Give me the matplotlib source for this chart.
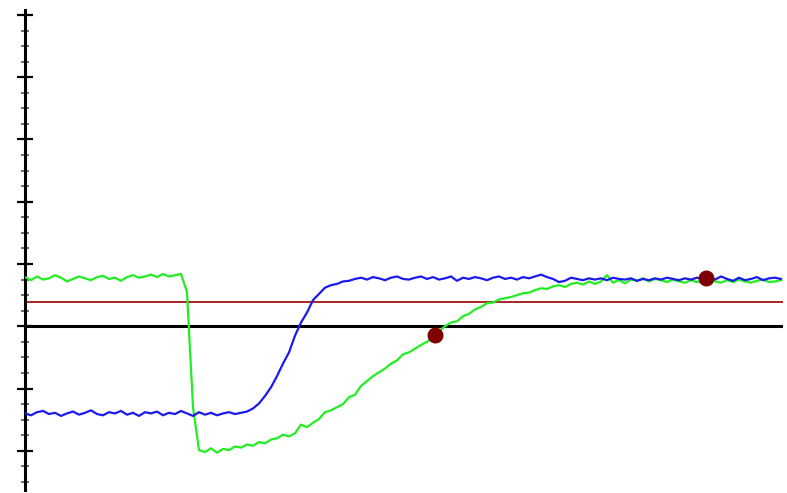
import numpy as np
import matplotlib.pyplot as plt
from matplotlib.ticker import MultipleLocator

# 数据 (每 6 个采样点一个值)
green = [0.79, 0.74, 0.80, 0.75, 0.77, 0.82, 0.78, 0.72, 0.76, 0.80,
         0.77, 0.74, 0.79, 0.81, 0.76, 0.78, 0.73, 0.79, 0.82, 0.78,
         0.80, 0.83, 0.79, 0.84, 0.80, 0.82, 0.84, 0.55, -1.30,
         -1.99, -2.02, -1.96, -2.03, -1.97, -1.99, -1.93, -1.95, -1.90, -1.92,
         -1.86, -1.88, -1.82, -1.80, -1.74, -1.77, -1.72, -1.58, -1.62, -1.55,
         -1.49, -1.38, -1.35, -1.30, -1.25, -1.14, -1.10, -0.96, -0.88, -0.80,
         -0.74, -0.68, -0.60, -0.55, -0.45, -0.42, -0.36, -0.30, -0.25, -0.18,
         -0.08, 0.00, 0.06, 0.08, 0.16, 0.20, 0.27, 0.31, 0.37, 0.38,
         0.43, 0.45, 0.47, 0.50, 0.53, 0.54, 0.58, 0.61, 0.60, 0.64,
         0.66, 0.63, 0.68, 0.70, 0.67, 0.72, 0.68, 0.72, 0.82, 0.70,
         0.74, 0.69, 0.75, 0.73, 0.77, 0.72, 0.76, 0.74,
         0.71, 0.75, 0.72, 0.70, 0.74, 0.71, 0.73, 0.76, 0.72, 0.70,
         0.74, 0.71, 0.75, 0.72, 0.70, 0.73, 0.75, 0.71, 0.72, 0.74]

blue = [-1.40, -1.43, -1.38, -1.36, -1.41, -1.39, -1.44, -1.40, -1.37, -1.42,
        -1.39, -1.35, -1.41, -1.43, -1.38, -1.40, -1.36, -1.42, -1.39, -1.44,
        -1.38, -1.40, -1.37, -1.43, -1.39, -1.41, -1.36, -1.40, -1.44, -1.38,
        -1.42, -1.39, -1.43, -1.40, -1.38, -1.41, -1.39,
        -1.37, -1.32, -1.24, -1.12, -0.98, -0.80, -0.60, -0.42, -0.15, 0.06,
        0.22, 0.42, 0.52, 0.62, 0.66, 0.68, 0.72, 0.73,
        0.76, 0.78, 0.75, 0.79, 0.77, 0.74, 0.78, 0.80, 0.76, 0.75,
        0.78, 0.80, 0.76, 0.79, 0.75, 0.77, 0.80, 0.73, 0.78, 0.76,
        0.79, 0.77, 0.74, 0.78, 0.80, 0.76, 0.78, 0.75, 0.79, 0.77,
        0.80, 0.83, 0.79, 0.76, 0.71, 0.73, 0.78, 0.76, 0.74, 0.77,
        0.75, 0.77, 0.74, 0.78, 0.76, 0.75, 0.77, 0.73, 0.76, 0.74,
        0.77, 0.75, 0.78, 0.76, 0.74, 0.77, 0.75, 0.78, 0.76, 0.79,
        0.75, 0.80, 0.76, 0.73, 0.78, 0.74, 0.76, 0.79, 0.74, 0.77, 0.78, 0.76]

threshold = 0.39
marker_x = [410, 681]
marker_y = [-0.14, 0.78]

x = np.arange(len(green)) * 6

fig = plt.figure(figsize=(7.87, 4.93), dpi=100)
ax = fig.add_axes([25 / 787, 3 / 493, 758 / 787, 480 / 493])

ax.axhline(0, color="black", lw=2.2, zorder=2)
ax.axhline(threshold, color="#990000", lw=1.2, zorder=2)
ax.plot(x, green, color="#22ee22", lw=1.6, zorder=3)
ax.plot(x, blue, color="#1a1aee", lw=1.6, zorder=3)
ax.scatter(marker_x, marker_y, s=110, color="#800000", zorder=4)

ax.set_xlim(0, 758)
ax.set_ylim(-2.63, 5.08)

for s in ["top", "right", "bottom"]:
    ax.spines[s].set_visible(False)
ax.spines["left"].set_linewidth(2.2)
ax.set_xticks([])
ax.yaxis.set_major_locator(MultipleLocator(1))
ax.yaxis.set_minor_locator(MultipleLocator(0.25))
ax.tick_params(axis="y", which="major", direction="inout", length=12, width=1.6, labelleft=False)
ax.tick_params(axis="y", which="minor", direction="inout", length=6, width=1.2, color="#555555")

plt.savefig("out.png")
